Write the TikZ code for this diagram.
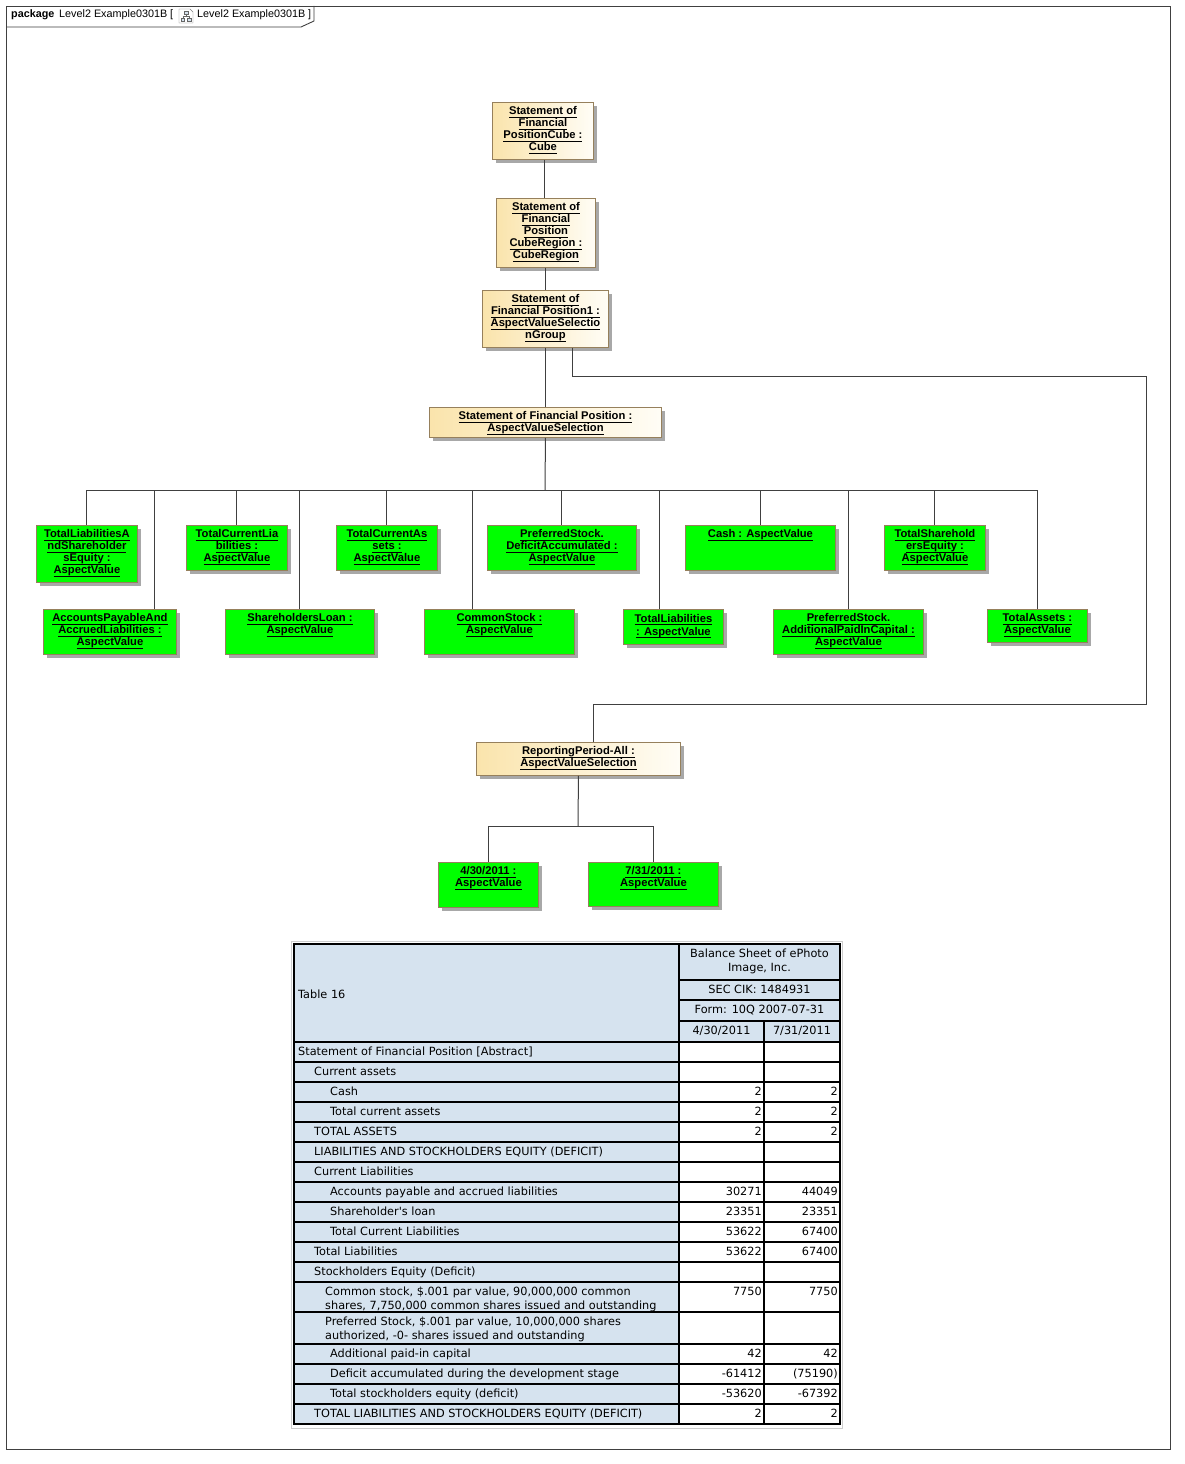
\documentclass[tikz,border=0pt]{standalone}
\usepackage{fontspec}
\setmainfont{Liberation Sans}
\newfontfamily\tabfont{DejaVu Sans}
\usetikzlibrary{shadows}
\definecolor{ylL}{RGB}{250,228,172}
\definecolor{ylR}{RGB}{255,253,246}
\definecolor{bord}{RGB}{150,128,92}
\definecolor{shd}{RGB}{168,168,168}
\definecolor{grn}{RGB}{0,255,0}
\definecolor{conn}{RGB}{64,64,64}
\definecolor{cellblue}{RGB}{214,227,239}
\definecolor{faint}{RGB}{205,205,205}
\newsavebox\ulbox
\newcommand\uln[1]{\sbox\ulbox{#1}\rlap{\rule[-2.6pt]{\wd\ulbox}{0.9pt}}\usebox\ulbox}
\tikzset{
  box/.style={draw=bord, line width=0.9pt, anchor=north west, inner sep=0pt,
    general shadow={fill=shd, shadow xshift=4pt, shadow yshift=-4pt}},
  ybox/.style={box, left color=ylL, right color=ylR},
  gbox/.style={box, fill=grn},
  lbl/.style={anchor=north, align=center, inner sep=0pt,
    font=\fontsize{11.2}{12}\selectfont\bfseries},
  wire/.style={draw=conn, line width=1pt},
  cell/.style={inner sep=0pt, font=\tabfont\fontsize{11.3}{14}\selectfont},
  lcell/.style={cell, anchor=base west},
  rcell/.style={cell, anchor=base east},
  ccell/.style={cell, anchor=base},
  grid/.style={draw=black, line width=2pt, line cap=rect},
  hdr/.style={inner sep=0pt, anchor=base west, font=\fontsize{10.8}{12}\selectfont},
}
\begin{document}
\begin{tikzpicture}[x=1pt, y=-1pt]
\useasboundingbox (0,0) rectangle (1185,1464);
\fill[white] (0,0) rectangle (1185,1464);
% frame
\draw[conn, line width=0.9pt] (6,6) rectangle (1170,1449);
\draw[conn, line width=0.9pt] (6,27) -- (301,27) -- (314,21) -- (314,6);
\node[hdr, font=\fontsize{10.8}{12}\selectfont\bfseries] (hdrA) at (11,18) {package};
\node[hdr] (hdrB) at (59,18) {Level2 Example0301B [};
\node[hdr] (hdrC) at (197,18) {Level2 Example0301B ]};
% icon
\draw[gray, fill=white] (179,9) -- (190,9) -- (193,12) -- (193,23) -- (179,23) -- cycle;
\draw[gray!80!black, fill=cellblue] (184,11) rectangle (188,14);
\draw[gray!80!black, fill=cellblue] (181,18) rectangle (184.5,21);
\draw[gray!80!black, fill=cellblue] (187.5,18) rectangle (191,21);
\draw[gray!80!black] (186,14) -- (186,16) (182.7,16) -- (189.3,16) (182.7,16) -- (182.7,18) (189.3,16) -- (189.3,18);

% yellow nodes
\node[ybox, minimum width=101pt, minimum height=57pt] (n1) at (492,102) {};
\node[lbl] (n1t) at ([yshift=-4.5pt]n1.north) {\uln{Statement of}\\\uln{Financial}\\\uln{PositionCube :}\\\uln{Cube}};
\node[ybox, minimum width=99pt, minimum height=69pt] (n2) at (496,198) {};
\node[lbl] (n2t) at ([yshift=-4.5pt]n2.north) {\uln{Statement of}\\\uln{Financial}\\\uln{Position}\\\uln{CubeRegion :}\\\uln{CubeRegion}};
\node[ybox, minimum width=126pt, minimum height=57pt] (n3) at (482,290) {};
\node[lbl] (n3t) at ([yshift=-4.5pt]n3.north) {\uln{Statement of}\\\uln{Financial Position1 :}\\\uln{AspectValueSelectio}\\\uln{nGroup}};
\node[ybox, minimum width=232pt, minimum height=30pt] (n4) at (429,407) {};
\node[lbl] (n4t) at ([yshift=-4.5pt]n4.north) {\uln{Statement of Financial Position :}\\\uln{AspectValueSelection}};
\node[ybox, minimum width=204pt, minimum height=33pt] (rp) at (476,742) {};
\node[lbl] (rpt) at ([yshift=-4.5pt]rp.north) {\uln{ReportingPeriod-All :}\\\uln{AspectValueSelection}};

% green nodes
\node[gbox, minimum width=101pt, minimum height=57pt] (g1) at (36,525) {};
\node[lbl] (g1t) at ([yshift=-4.5pt]g1.north) {\uln{TotalLiabilitiesA}\\\uln{ndShareholder}\\\uln{sEquity :}\\\uln{AspectValue}};
\node[gbox, minimum width=101pt, minimum height=45pt] (g2) at (186,525) {};
\node[lbl] (g2t) at ([yshift=-4.5pt]g2.north) {\uln{TotalCurrentLia}\\\uln{bilities :}\\\uln{AspectValue}};
\node[gbox, minimum width=101pt, minimum height=45pt] (g3) at (336,525) {};
\node[lbl] (g3t) at ([yshift=-4.5pt]g3.north) {\uln{TotalCurrentAs}\\\uln{sets :}\\\uln{AspectValue}};
\node[gbox, minimum width=149pt, minimum height=45pt] (g6) at (487,525) {};
\node[lbl] (g6t) at ([yshift=-4.5pt]g6.north) {\uln{PreferredStock.}\\\uln{DeficitAccumulated :}\\\uln{AspectValue}};
\node[gbox, minimum width=150pt, minimum height=45pt] (g9) at (685,525) {};
\node[lbl] (g9t) at ([yshift=-4.5pt]g9.north) {\uln{Cash : AspectValue}};
\node[gbox, minimum width=101pt, minimum height=45pt] (g10) at (884,525) {};
\node[lbl] (g10t) at ([yshift=-4.5pt]g10.north) {\uln{TotalSharehold}\\\uln{ersEquity :}\\\uln{AspectValue}};
\node[gbox, minimum width=133pt, minimum height=45pt] (g4) at (43,609) {};
\node[lbl] (g4t) at ([yshift=-4.5pt]g4.north) {\uln{AccountsPayableAnd}\\\uln{AccruedLiabilities :}\\\uln{AspectValue}};
\node[gbox, minimum width=149pt, minimum height=45pt] (g5) at (225,609) {};
\node[lbl] (g5t) at ([yshift=-4.5pt]g5.north) {\uln{ShareholdersLoan :}\\\uln{AspectValue}};
\node[gbox, minimum width=150pt, minimum height=45pt] (g7) at (424,609) {};
\node[lbl] (g7t) at ([yshift=-4.5pt]g7.north) {\uln{CommonStock :}\\\uln{AspectValue}};
\node[gbox, minimum width=100pt, minimum height=35pt] (g8) at (623,609) {};
\node[lbl] (g8t) at ([yshift=-5pt]g8.north) {\uln{TotalLiabilities}\\[1pt]\uln{: AspectValue}};
\node[gbox, minimum width=150pt, minimum height=45pt] (g11) at (773,609) {};
\node[lbl] (g11t) at ([yshift=-4.5pt]g11.north) {\uln{PreferredStock.}\\\uln{AdditionalPaidInCapital :}\\\uln{AspectValue}};
\node[gbox, minimum width=100pt, minimum height=33pt] (g12) at (987,609) {};
\node[lbl] (g12t) at ([yshift=-4.5pt]g12.north) {\uln{TotalAssets :}\\\uln{AspectValue}};
\node[gbox, minimum width=100pt, minimum height=45pt] (d1) at (438,862) {};
\node[lbl] (d1t) at ([yshift=-4.5pt]d1.north) {\uln{4/30/2011 :}\\\uln{AspectValue}};
\node[gbox, minimum width=130pt, minimum height=44pt] (d2) at (588,862) {};
\node[lbl] (d2t) at ([yshift=-4.5pt]d2.north) {\uln{7/31/2011 :}\\\uln{AspectValue}};

% connectors
\coordinate (bus) at (545,490);
\coordinate (bendA) at (1146,376);
\coordinate (bendB) at (1146,704);
\coordinate (bus2) at (578,826);
\draw[wire] ([xshift=1.5pt]n1.south) -- ([xshift=1.5pt]n1.south |- n2.north);
\draw[wire] (n2.south) -- (n2.south |- n3.north);
\draw[wire] (n3.south) -- (n3.south |- n4.north);
\draw[wire] ([xshift=27pt]n3.south) |- (bendA) -- (bendB) -| ([xshift=15pt]rp.north);
\draw[wire] (n4.south) -- (bus);
\draw[wire] (bus) -| (g1.north);
\draw[wire] (bus) -| (g2.north);
\draw[wire] (bus) -| (g3.north);
\draw[wire] (bus) -| ([xshift=45pt]g4.north);
\draw[wire] (bus) -| (g5.north);
\draw[wire] (bus) -| (g6.north);
\draw[wire] (bus) -| ([xshift=-27pt]g7.north);
\draw[wire] (bus) -| ([xshift=-14pt]g8.north);
\draw[wire] (bus) -| (g9.north);
\draw[wire] (bus) -| (g10.north);
\draw[wire] (bus) -| (g11.north);
\draw[wire] (bus) -| (g12.north);
\draw[wire] (rp.south) -- (bus2);
\draw[wire] (bus2) -| (d1.north);
\draw[wire] (bus2) -| (d2.north);

% table
\draw[faint, line width=0.8pt] (291,941) rectangle (842,1428);
\fill[cellblue] (294,944) rectangle (679,1424);
\fill[cellblue] (679,944) rectangle (840,1021);
\fill[cellblue] (679,1021) rectangle (840,1042);
\foreach \yy in {944,1042,1062,1082,1102,1122,1142,1162,1182,1202,1222,1242,1262,1282,1312,1344,1364,1384,1404,1424}
  \draw[grid] (294,\yy) -- (840,\yy);
\foreach \yy in {980,1000,1021}
  \draw[grid] (679,\yy) -- (840,\yy);
\draw[grid] (294,944) -- (294,1424);
\draw[grid] (679,944) -- (679,1424);
\draw[grid] (764,1021) -- (764,1424);
\draw[grid] (840,944) -- (840,1424);

\node[lcell] (tabname) at (298,998) {Table 16};
\node[ccell] (h1a) at (759.5,957) {Balance Sheet of ePhoto};
\node[ccell] (h1b) at (759.5,971) {Image, Inc.};
\node[ccell] (h2) at (759.5,993) {SEC CIK: 1484931};
\node[ccell] (h3) at (759.5,1013) {Form: 10Q 2007-07-31};
\node[ccell] (h4) at (721.5,1034.5) {4/30/2011};
\node[ccell] (h5) at (802,1034.5) {7/31/2011};

\foreach \yy/\xx/\txt/\va/\vb [count=\i] in {
  1042/298/{Statement of Financial Position [Abstract]}/{}/{},
  1062/314/{Current assets}/{}/{},
  1082/330/{Cash}/{2}/{2},
  1102/330/{Total current assets}/{2}/{2},
  1122/314/{TOTAL ASSETS}/{2}/{2},
  1142/314/{LIABILITIES AND STOCKHOLDERS EQUITY (DEFICIT)}/{}/{},
  1162/314/{Current Liabilities}/{}/{},
  1182/330/{Accounts payable and accrued liabilities}/{30271}/{44049},
  1202/330/{Shareholder's loan}/{23351}/{23351},
  1222/330/{Total Current Liabilities}/{53622}/{67400},
  1242/314/{Total Liabilities}/{53622}/{67400},
  1262/314/{Stockholders Equity (Deficit)}/{}/{},
  1344/330/{Additional paid-in capital}/{42}/{42},
  1364/330/{Deficit accumulated during the development stage}/{-61412}/{(75190)},
  1384/330/{Total stockholders equity (deficit)}/{-53620}/{-67392},
  1404/314/{TOTAL LIABILITIES AND STOCKHOLDERS EQUITY (DEFICIT)}/{2}/{2}}
{
  \node[lcell] (lab\i) at (\xx,\yy+13) {\txt};
  \node[rcell] (va\i) at (762,\yy+13) {\va};
  \node[rcell] (vb\i) at (838,\yy+13) {\vb};
}
\node[lcell] (cs1) at (325,1295) {Common stock, \$.001 par value, 90,000,000 common};
\node[lcell] (cs2) at (325,1309) {shares, 7,750,000 common shares issued and outstanding};
\node[rcell] (csa) at (762,1295) {7750};
\node[rcell] (csb) at (838,1295) {7750};
\node[lcell] (ps1) at (325,1325) {Preferred Stock, \$.001 par value, 10,000,000 shares};
\node[lcell] (ps2) at (325,1339) {authorized, -0- shares issued and outstanding};
\end{tikzpicture}
\end{document}
